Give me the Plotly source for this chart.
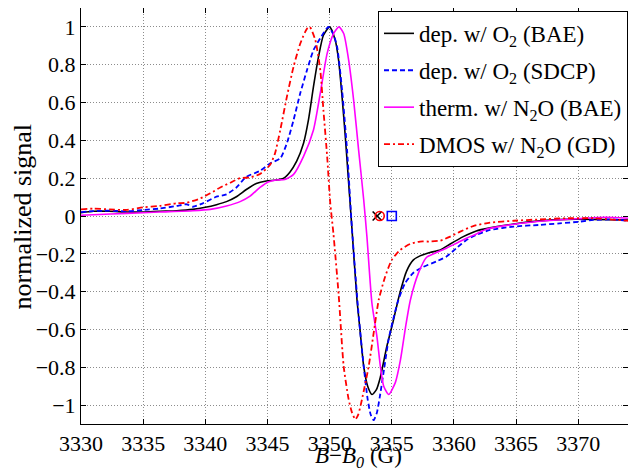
import plotly.graph_objects as go

# ---------------- data ----------------
b_dep_bae = [3330, 3331, 3332.3, 3333.7, 3335, 3336.3, 3337.7, 3339, 3340, 3340.9, 3341.7,
             3342.5, 3343.3, 3344.1, 3344.9, 3345.7, 3346.3, 3346.8, 3347.35, 3347.9, 3348.3,
             3348.7, 3349.1, 3349.5, 3350, 3350.45, 3350.72, 3351, 3351.26, 3351.53, 3351.8,
             3352.2, 3352.47, 3352.74, 3353.06, 3353.41, 3353.75, 3354.07, 3354.6, 3355.1,
             3355.6, 3356.2, 3356.74, 3357.27, 3358.07, 3358.9, 3359.7, 3360.75, 3361.8,
             3362.9, 3364.8, 3366.9, 3369, 3371.2, 3374]
s_dep_bae = [0.018, 0.025, 0.025, 0.021, 0.021, 0.025, 0.028, 0.035, 0.046, 0.06, 0.076,
             0.102, 0.14, 0.172, 0.185, 0.19, 0.2, 0.232, 0.29, 0.385, 0.51,
             0.684, 0.84, 0.956, 1.0, 0.93, 0.824, 0.63, 0.42, 0.174, -0.072,
             -0.443, -0.62, -0.795, -0.9, -0.944, -0.92, -0.855, -0.69, -0.56,
             -0.42, -0.29, -0.232, -0.211, -0.193, -0.18, -0.148, -0.109, -0.079,
             -0.063, -0.042, -0.026, -0.018, -0.018, -0.021]

b_dep_sdcp = [3330, 3331, 3332.3, 3333.7, 3335, 3336.3, 3337.7, 3338.5, 3339, 3339.8, 3340.9,
              3341.7, 3342.5, 3343.3, 3344.4, 3345.2, 3346.03, 3346.56, 3347.1, 3347.64,
              3348.17, 3348.7, 3349.25, 3349.9, 3350.3, 3350.6, 3351, 3351.4, 3351.8, 3352.34,
              3352.74, 3353.06, 3353.3, 3353.54, 3353.8, 3354.05, 3354.4, 3354.75, 3355.1,
              3355.5, 3356.07, 3356.74, 3357.5, 3358.6, 3359.4, 3360.2, 3361, 3361.8, 3362.9,
              3364.8, 3366.9, 3368.5, 3370.1, 3371.2, 3372.8, 3374]
s_dep_sdcp = [0.021, 0.026, 0.028, 0.025, 0.032, 0.039, 0.053, 0.062, 0.049, 0.067, 0.102,
              0.114, 0.151, 0.207, 0.239, 0.278, 0.305, 0.385, 0.508, 0.65,
              0.77, 0.877, 0.94, 1.0, 0.96, 0.895, 0.666, 0.35, -0.07, -0.53,
              -0.795, -0.97, -1.05, -1.08, -1.04, -0.95, -0.8, -0.65, -0.55,
              -0.45, -0.355, -0.3, -0.27, -0.24, -0.214, -0.17, -0.127, -0.1, -0.074,
              -0.056, -0.047, -0.039, -0.03, -0.021, -0.018, -0.025]

b_therm = [3330, 3331, 3333.7, 3336.3, 3339, 3340.4, 3341.7, 3342.8, 3343.6, 3344.4, 3345.05,
           3345.7, 3346.4, 3347.1, 3347.9, 3348.7, 3349.25, 3349.8, 3350.32, 3350.75, 3351.13,
           3351.53, 3351.93, 3352.33, 3352.74, 3353.0, 3353.4, 3353.81, 3354.08, 3354.35,
           3354.75, 3355.29, 3355.7, 3356.1, 3356.5, 3357.14, 3357.8, 3358.6, 3359.4, 3360.2,
           3361, 3361.8, 3362.6, 3364.8, 3367.4, 3370.1, 3372.2, 3374]
s_therm = [0.004, 0.007, 0.014, 0.021, 0.028, 0.035, 0.053, 0.076, 0.105, 0.151, 0.18,
           0.19, 0.193, 0.22, 0.315, 0.455, 0.65, 0.86, 0.965, 1.0, 0.965,
           0.824, 0.613, 0.35, 0.086, -0.11, -0.46, -0.64, -0.795, -0.9,
           -0.944, -0.88, -0.76, -0.59, -0.443, -0.302, -0.218, -0.193, -0.17, -0.144,
           -0.118, -0.095, -0.07, -0.044, -0.025, -0.014, -0.007, -0.012]

b_dmos = [3330, 3331, 3332.3, 3333.7, 3335, 3336.3, 3337.7, 3338.5, 3339.6, 3340.4, 3341.2,
          3342, 3342.8, 3343.6, 3344.4, 3345.2, 3345.6, 3346.03, 3346.56, 3347.1, 3347.64,
          3348.17, 3348.4, 3348.85, 3349.25, 3349.5, 3349.8, 3350.05, 3350.3, 3350.73,
          3351.13, 3351.53, 3351.8, 3352.07, 3352.3, 3352.6, 3353.14, 3353.54, 3353.95,
          3354.47, 3355, 3355.67, 3356.47, 3357.27, 3358.07, 3358.9, 3359.7, 3360.5,
          3361.55, 3362.9, 3364.8, 3366.9, 3369, 3371.2, 3374]
s_dmos = [0.035, 0.039, 0.035, 0.032, 0.046, 0.053, 0.067, 0.07, 0.093, 0.12, 0.151,
          0.176, 0.2, 0.204, 0.222, 0.27, 0.33, 0.455, 0.63, 0.79, 0.912,
          0.99, 1.0, 0.93, 0.77, 0.56, 0.315, 0.068, -0.09, -0.42,
          -0.795, -0.97, -1.04, -1.076, -1.05, -0.97, -0.795, -0.62, -0.443,
          -0.32, -0.232, -0.18, -0.148, -0.135, -0.135, -0.13, -0.109, -0.083,
          -0.053, -0.035, -0.025, -0.018, -0.012, -0.012, -0.025]

# zero-crossing markers
zc_b = [3353.82, 3354.03, 3355.0]
zc_s = [0, 0, 0]

series_names = ["dep. w/ O<sub>2</sub> (BAE)", "dep. w/ O<sub>2</sub> (SDCP)",
                "therm. w/ N<sub>2</sub>O (BAE)", "DMOS w/ N<sub>2</sub>O (GD)"]

x_ticks = [3330, 3335, 3340, 3345, 3350, 3355, 3360, 3365, 3370]
y_ticks = [-1, -0.8, -0.6, -0.4, -0.2, 0, 0.2, 0.4, 0.6, 0.8, 1]
y_tick_text = ["\u22121", "\u22120.8", "\u22120.6", "\u22120.4", "\u22120.2", "0",
               "0.2", "0.4", "0.6", "0.8", "1"]

FONT = "'Liberation Serif', 'Times New Roman', Times, serif"

fig = go.Figure()
fig.add_trace(go.Scatter(x=b_dep_bae, y=s_dep_bae, mode="lines", name=series_names[0],
                         legendgroup="a",
                         line=dict(color="black", width=1.6, shape="spline", smoothing=0.6)))
fig.add_trace(go.Scatter(x=b_dep_sdcp, y=s_dep_sdcp, mode="lines", name=series_names[1],
                         legendgroup="b",
                         line=dict(color="#0000ff", width=1.8, dash="5px,3px", shape="spline", smoothing=0.6)))
fig.add_trace(go.Scatter(x=b_therm, y=s_therm, mode="lines", name=series_names[2],
                         legendgroup="c",
                         line=dict(color="#ff00ff", width=1.6, shape="spline", smoothing=0.6)))
fig.add_trace(go.Scatter(x=b_dmos, y=s_dmos, mode="lines", name=series_names[3],
                         legendgroup="d",
                         line=dict(color="#ff0000", width=1.8, dash="6px,3px,2px,3px", shape="spline", smoothing=0.6)))

marker_syms = ["x-thin-open", "circle-open", "square-open"]
marker_cols = ["black", "#ff0000", "#0000ff"]
for i in range(3):
    fig.add_trace(go.Scatter(x=[zc_b[i]], y=[zc_s[i]], mode="markers", showlegend=False,
                             marker=dict(symbol=marker_syms[i], size=9, color=marker_cols[i],
                                         line=dict(width=1.6, color=marker_cols[i]))))

axis_common = dict(showline=True, linecolor="black", linewidth=1, mirror="ticks",
                   ticks="inside", ticklen=5, tickcolor="black", tickwidth=1,
                   showgrid=True, gridcolor="#8c8c8c", gridwidth=1, griddash="1px,2px",
                   zeroline=False, automargin=False,
                   tickfont=dict(family=FONT, size=22, color="black"))

fig.update_xaxes(range=[3330, 3374], tickvals=x_ticks, **axis_common)
fig.update_yaxes(range=[-1.1, 1.1], tickvals=y_ticks, ticktext=y_tick_text, **axis_common)

# the page body adds an 8px offset, so the figure is laid out 8px smaller
fig.update_layout(
    template="none",
    width=628, height=463,
    margin=dict(l=73, r=8, t=0, b=47, pad=0),
    plot_bgcolor="white", paper_bgcolor="white",
    font=dict(family=FONT, size=22, color="black"),
    legend=dict(x=1, xanchor="right", y=0.993, yanchor="top",
                bgcolor="white", bordercolor="black", borderwidth=1,
                font=dict(family=FONT, size=23, color="black"),
                itemwidth=30, tracegroupgap=4),
    annotations=[
        dict(text="<i>B</i>\u2212<i>B</i><sub><i>0</i></sub> (G)", xref="paper", yref="paper",
             x=0.508, y=-0.042, xanchor="center", yanchor="top", showarrow=False,
             font=dict(family=FONT, size=23, color="black")),
        dict(text="normalized signal", xref="paper", yref="paper", textangle=-90,
             x=-0.107, y=0.5, xanchor="center", yanchor="middle", showarrow=False,
             font=dict(family=FONT, size=26, color="black")),
    ],
)

fig.write_html("out.html")
